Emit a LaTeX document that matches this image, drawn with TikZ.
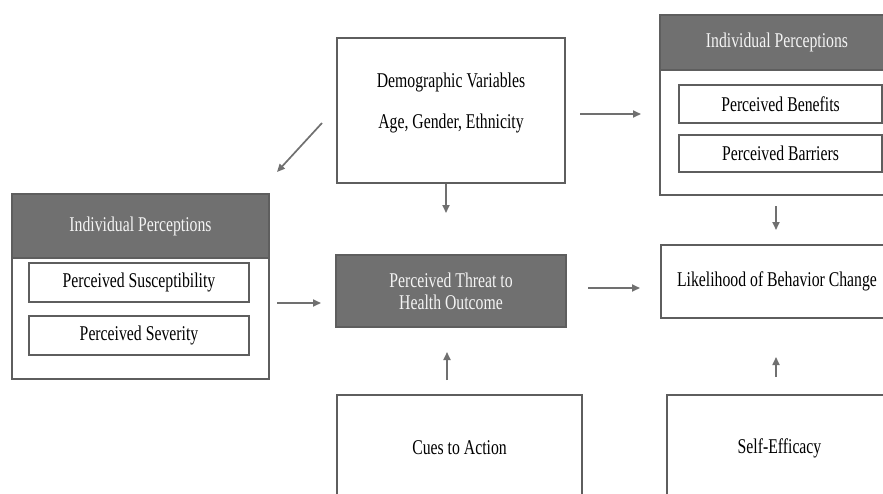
\documentclass[tikz,border=0pt]{standalone}
\usepackage{fontspec}
\setmainfont{Liberation Serif}[FakeStretch=0.75]
\usetikzlibrary{arrows.meta}
\definecolor{boxline}{HTML}{5E5E5E}
\definecolor{headfill}{HTML}{707070}
\definecolor{headtext}{HTML}{F4F4F4}
\definecolor{arrowcol}{HTML}{707070}
\begin{document}
\begin{tikzpicture}[x=1pt,y=-1pt,
  every node/.style={font=\fontsize{21}{24}\selectfont, inner sep=0pt, outer sep=0pt},
  box/.style={draw=boxline, line width=1.3pt, fill=white, rectangle},
  headbox/.style={draw=boxline, line width=1.3pt, fill=headfill, text=headtext, rectangle},
  plain/.style={text=black},
  arr/.style={draw=arrowcol, line width=1.7pt, -{Triangle[length=8pt,width=7pt]}}
]
\useasboundingbox (0,0) rectangle (883,493);
\clip (0,0) rectangle (883,493);

% left group
\node[box, minimum width=257, minimum height=185] (lp) at (140.5,286.5) {};
\node[headbox, minimum width=257, minimum height=64] (lph) at (140.5,226) {Individual Perceptions};
\node[box, minimum width=220, minimum height=39] (sus) at (139,282.5) {Perceived Susceptibility};
\node[box, minimum width=220, minimum height=39] (sev) at (139,335.5) {Perceived Severity};

% demographic
\node[box, minimum width=228, minimum height=145] (demo) at (451,110.5) {};
\node[plain, align=center, font=\fontsize{21}{41}\selectfont] (demot) at (451,102.5) {Demographic Variables\\Age, Gender, Ethnicity};

% right group
\node[box, minimum width=234, minimum height=180] (rp) at (777,105) {};
\node[headbox, minimum width=234, minimum height=55] (rph) at (777,42.5) {Individual Perceptions};
\node[box, minimum width=203, minimum height=38] (ben) at (780.5,104) {Perceived Benefits};
\node[box, minimum width=203, minimum height=37] (bar) at (780.5,153.5) {Perceived Barriers};

% threat
\node[headbox, minimum width=230, minimum height=72, align=center, font=\fontsize{21}{22}\selectfont] (threat) at (451,291) {Perceived Threat to\\Health Outcome};

% likelihood
\node[box, minimum width=232, minimum height=73] (like) at (777,281.5) {Likelihood of Behavior Change};

% bottom boxes (cut by the page edge)
\node[box, minimum width=245, minimum height=106] (cues) at (459.5,448) {Cues to Action};
\node[box, minimum width=225, minimum height=106] (self) at (779.5,448) {Self-Efficacy};

% arrow end points
\coordinate (d1) at (322,123); \coordinate (d2) at (277,172);
\coordinate (l1) at (277,303); \coordinate (l2) at (321,303);
\coordinate (m1) at (446,184); \coordinate (m2) at (446,213);
\coordinate (r1) at (580,114); \coordinate (r2) at (641,114);
\coordinate (t1) at (588,288); \coordinate (t2) at (640,288);
\coordinate (b1) at (776,206); \coordinate (b2) at (776,230);
\coordinate (c1) at (447,380); \coordinate (c2) at (447,352);
\coordinate (s1) at (776,377); \coordinate (s2) at (776,357);

\draw[arr] (d1) -- (d2);
\draw[arr] (l1) -- (l2);
\draw[arr] (m1) -- (m2);
\draw[arr] (r1) -- (r2);
\draw[arr] (t1) -- (t2);
\draw[arr] (b1) -- (b2);
\draw[arr] (c1) -- (c2);
\draw[arr] (s1) -- (s2);
\end{tikzpicture}
\end{document}
